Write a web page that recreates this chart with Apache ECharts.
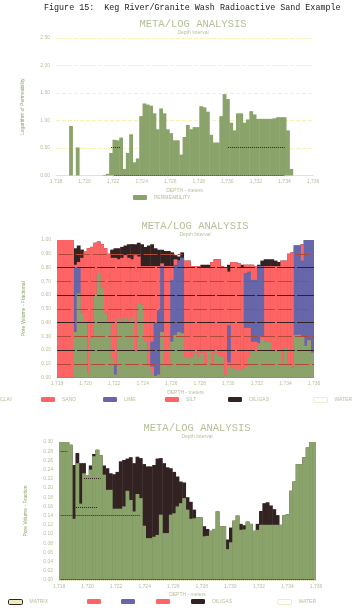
<!DOCTYPE html>
<html>
<head>
<meta charset="utf-8">
<title>Figure 15</title>
<script src="https://cdn.jsdelivr.net/npm/echarts@6/dist/echarts.min.js"></script>
<style>
html, body { margin: 0; padding: 0; background: #fff; }
#ichart { width: 352px; height: 612px; }
</style>
</head>
<body>
<div id="ichart"></div>
<script>
// tick labels
const depthTicks = [1718, 1720, 1722, 1724, 1726, 1728, 1730, 1732, 1734, 1736]
const permMax = 2.5
const fracMax = 100
const porMax = 30

// one sample per depth step
const permeability = [
  0, 0, 0, 0, 0.9, 0, 0.51, 0, 0, 0,
  0, 0, 0, 0, 0.01, 0.03, 0.41, 0.65, 0.64, 0.69,
  0.12, 0.41, 0.75, 0.24, 0.31, 1.08, 1.31, 1.29, 1.27, 1.13,
  0.84, 1.22, 1.13, 0.84, 0.77, 0.64, 0.64, 0.38, 0.7, 0.92,
  0.84, 0.88, 0.88, 1.26, 1.24, 1.16, 0.74, 0.6, 0.6, 1.08,
  1.48, 1.39, 0.96, 0.82, 1.13, 1.13, 0.96, 1.02, 1.17, 1.11,
  1.03, 1.03, 1.03, 1.03, 1.03, 1.04, 1.06, 1.06, 1.06, 0.82,
  0.12, 0, 0, 0, 0, 0, 0
]

// middle chart: top of each layer (cumulative percent)
const clayTop = [
  0, 0, 0, 0, 0, 33, 61, 47, 40, 3,
  29, 60, 76, 65, 47, 40, 14, 2, 43, 40,
  43, 40, 44, 19, 54, 53, 26, 8, 3, 1,
  2, 33, 9, 8, 26, 31, 33, 32, 15, 14,
  15, 18, 15, 18, 10, 19, 10, 18, 16, 15,
  2, 8, 7, 6, 6, 6, 7, 15, 19, 19,
  24, 28, 26, 26, 19, 19, 19, 11, 22, 10,
  7, 31, 31, 30, 23, 27, 18
]
const sandTop = [
  100, 100, 100, 100, 100, 33, 61, 47, 40, 3,
  29, 60, 76, 65, 47, 40, 14, 2, 43, 40,
  43, 40, 44, 19, 54, 53, 26, 8, 8, 1,
  2, 33, 9, 8, 26, 31, 33, 32, 15, 14,
  15, 18, 15, 18, 10, 19, 10, 18, 16, 15,
  2, 11, 7, 6, 6, 6, 36, 36, 26, 26,
  25, 30, 26, 26, 19, 19, 19, 11, 22, 10,
  7, 31, 31, 30, 23, 27, 18
]
const limeTop = [
  100, 100, 100, 100, 100, 80, 80, 47, 40, 3,
  29, 60, 76, 65, 47, 40, 14, 9, 43, 40,
  43, 40, 44, 19, 54, 53, 26, 8, 26, 40,
  49, 81, 9, 8, 71, 82, 85, 87, 15, 14,
  15, 18, 15, 18, 10, 19, 10, 18, 16, 15,
  2, 38, 7, 6, 6, 6, 76, 77, 71, 71,
  81, 81, 26, 26, 19, 19, 19, 11, 22, 10,
  7, 96, 96, 85, 100, 100, 100
]
const siltTop = [
  100, 100, 100, 100, 100, 82, 84, 87, 92, 94,
  95, 98, 99, 97, 94, 90, 87, 87, 86, 87,
  89, 87, 86, 89, 88, 81, 81, 81, 81, 81,
  81, 83, 81, 81, 81, 86, 85, 87, 85, 85,
  81, 81, 81, 80, 80, 80, 84, 86, 86, 81,
  80, 77, 84, 84, 83, 80, 82, 82, 82, 81,
  81, 81, 81, 81, 81, 81, 81, 85, 85, 90,
  91, 96, 96, 97, 100, 100, 100
]
const oilTop = [
  100, 100, 100, 100, 100, 94, 96, 93, 92, 94,
  95, 98, 99, 97, 94, 90, 93, 94, 94, 95,
  96, 97, 97, 97, 98, 97, 95, 96, 97, 94,
  93, 93, 92, 92, 91, 89, 88, 91, 85, 85,
  81, 81, 81, 82, 82, 82, 84, 86, 86, 81,
  80, 82, 84, 84, 83, 82, 82, 82, 82, 81,
  82, 85, 86, 86, 86, 85, 84, 85, 85, 90,
  91, 96, 96, 97, 100, 100, 100
]

// bottom chart: matrix and oil/gas top
const matrixTop = [
  30, 30, 30, 29.4, 13.3, 25.4, 16.6, 23.2, 22.7, 24,
  26.9, 28.3, 27.1, 22.9, 19.6, 19.6, 15.5, 15.5, 15.5, 16,
  19.4, 17.4, 14.9, 18.7, 17.8, 11.8, 9.1, 9.1, 9.4, 9.8,
  14.2, 10.2, 10.2, 14.2, 14.5, 16, 16.7, 17.8, 15.3, 13.3,
  13.4, 13.6, 13.6, 9.5, 9.6, 10.7, 11.1, 14.9, 11.7, 11.7,
  6.7, 8.2, 12.9, 14, 10.9, 11, 12.7, 12.2, 10.7, 10.9,
  12, 12, 12, 12, 12, 12, 12, 14.1, 14.3, 19.4,
  21.4, 25.2, 25.2, 26.7, 28.8, 30, 30
]
const hydroTop = [
  30, 30, 30, 29.4, 25, 27.6, 25.4, 25.4, 22.7, 24.9,
  27.4, 28.3, 27.1, 24.9, 24.3, 23.2, 23, 23.5, 25.8, 26.1,
  26.4, 26.7, 25.4, 26.8, 26.5, 25.2, 24.7, 24.7, 25, 26.4,
  26.5, 25.4, 24.5, 24.3, 23.5, 22.5, 21.4, 21.2, 18, 17,
  15.3, 13.6, 13.6, 11.7, 11.1, 10.7, 11.1, 14.9, 11.7, 11.7,
  8.8, 11.4, 12.9, 14, 12.2, 11.9, 12.7, 12.2, 10.7, 12.2,
  15, 16.7, 16.9, 16.2, 15.4, 14.1, 12, 14.1, 14.3, 19.4,
  21.4, 25.2, 25.2, 26.7, 28.8, 30, 30
]

const steps = permeability.map((v, i) => String(i))

const GREEN = '#8aa36b'
const RED = '#ff6464'
const BLUE = '#6666aa'
const DARK = '#332222'
const PALE = '#b4bf98'
const SMALL = 5

function barSeries (name, idx, color, data) {
  return {
    name: name,
    type: 'bar',
    xAxisIndex: idx,
    yAxisIndex: idx,
    barWidth: 3.8,
    barGap: '-100%',
    itemStyle: { color: color },
    silent: true,
    data: data
  }
}

function rules (color, type, lines) {
  return {
    silent: true,
    symbol: 'none',
    animation: false,
    label: { show: false },
    lineStyle: { color: color, width: 1, type: type, opacity: 1 },
    data: lines
  }
}

// [value, fromStep, toStep]
function segs (list) {
  return list.map(s => [{ coord: [String(s[1]), s[0]] }, { coord: [String(s[2]), s[0]] }])
}

function titles (top, center, sub) {
  return [
    { text: 'META/LOG ANALYSIS', left: center, top: top, padding: 0, textAlign: 'center', textStyle: { color: PALE, fontSize: 10.5, fontWeight: 'normal', fontFamily: 'Liberation Mono' } },
    { text: sub, left: center, top: top + 11, padding: 0, textAlign: 'center', textStyle: { color: PALE, fontSize: SMALL, fontWeight: 'normal' } }
  ]
}

function catAxis (idx) {
  return { type: 'category', gridIndex: idx, data: steps, show: false }
}

function depthAxis (idx) {
  return {
    type: 'value',
    gridIndex: idx,
    position: 'bottom',
    min: depthTicks[0],
    max: depthTicks[depthTicks.length - 1],
    interval: 2,
    name: 'DEPTH - meters',
    nameLocation: 'middle',
    nameGap: 12.5,
    nameTextStyle: { color: PALE, fontSize: SMALL },
    axisLine: { lineStyle: { color: '#e6e2b0', type: 'dotted' } },
    axisTick: { show: false },
    splitLine: { show: false },
    axisLabel: { color: PALE, fontSize: SMALL, margin: 4 }
  }
}

function valAxis (idx, max, interval, name, fmt, gridColor) {
  return {
    type: 'value',
    gridIndex: idx,
    min: 0,
    max: max,
    interval: interval,
    name: name,
    nameLocation: 'middle',
    nameGap: 31,
    nameTextStyle: { color: GREEN, fontSize: SMALL },
    axisLine: { show: false },
    axisTick: { show: false },
    splitLine: { show: !!gridColor, lineStyle: { color: gridColor || '#fff', type: 'dashed' } },
    axisLabel: { color: PALE, fontSize: SMALL, margin: 6, formatter: fmt }
  }
}

function legendAt (left, top, item, showText) {
  return {
    left: left,
    top: top,
    selectedMode: false,
    itemWidth: 14,
    itemHeight: 5,
    padding: 0,
    formatter: n => (showText ? n : ''),
    textStyle: { color: PALE, fontSize: SMALL, padding: [0, 0, 0, 2] },
    data: [item]
  }
}

const waterItem = { name: 'WATER', itemStyle: { color: '#fff', borderColor: '#efe9c8', borderWidth: 1 } }
const matrixItem = { name: 'MATRIX', itemStyle: { color: '#ecebbe', borderColor: DARK, borderWidth: 1 } }

const option = {
  animation: false,
  backgroundColor: '#fff',
  title: [
    { text: 'Figure 15:  Keg River/Granite Wash Radioactive Sand Example', left: 44, top: 4, padding: 0, textStyle: { color: '#222', fontSize: 8.4, fontWeight: 'normal', fontFamily: 'Liberation Mono' } }
  ].concat(
    titles(19, 193, 'Depth Interval'),
    titles(221, 195, 'Depth Interval'),
    titles(423, 197, 'Depth Interval')
  ),
  grid: [
    { left: 56, top: 38, width: 257, height: 137.5 },
    { left: 57, top: 240, width: 257, height: 137.5 },
    { left: 59, top: 442, width: 257, height: 138 }
  ],
  legend: [
    legendAt(133, 195, 'PERMEABILITY', true),
    legendAt(-21, 397, 'CLAY', true),
    legendAt(41, 397, 'SAND', true),
    legendAt(103, 397, 'LIME', true),
    legendAt(165, 397, 'SILT', true),
    legendAt(228, 397, 'OIL/GAS', true),
    legendAt(313, 397, waterItem, true),
    legendAt(8, 599, matrixItem, true),
    legendAt(87, 599, 'SAND', false),
    legendAt(121, 599, 'LIME', false),
    legendAt(156, 599, 'SILT', false),
    legendAt(191, 599, 'OIL/GAS', true),
    legendAt(277, 599, waterItem, true)
  ],
  xAxis: [catAxis(0), catAxis(1), catAxis(2), depthAxis(0), depthAxis(1), depthAxis(2)],
  yAxis: [
    valAxis(0, permMax, 0.5, 'Logarithm of Permeability', v => v.toFixed(2), '#f7f3b0'),
    valAxis(1, fracMax, 10, 'Pore Volume - Fractional', v => (v / 100).toFixed(2)),
    valAxis(2, porMax, 2, 'Pore Volume - Fraction', v => (v / 100).toFixed(2))
  ],
  series: [
    Object.assign(barSeries('PERMEABILITY', 0, GREEN, permeability), {
      markLine: rules(DARK, 'dotted', segs([[0.52, 16, 19], [0.52, 51, 68], [0.01, 17, 68]]))
    }),

    barSeries('OIL/GAS', 1, DARK, oilTop),
    barSeries('SILT', 1, RED, siltTop),
    barSeries('LIME', 1, BLUE, limeTop),
    Object.assign(barSeries('SAND', 1, RED, sandTop), {
      markLine: rules('#b04a38', [14, 3], [{ yAxis: 70 }, { yAxis: 50 }, { yAxis: 30 }, { yAxis: 10 }].concat(segs([[90, 0, 37], [90, 71, 76]])))
    }),
    Object.assign(barSeries('CLAY', 1, GREEN, clayTop), {
      markLine: rules(DARK, [18, 2], [{ yAxis: 80 }, { yAxis: 60 }, { yAxis: 40 }, { yAxis: 20 }])
    }),
    barSeries('WATER', 1, '#fff', []),

    barSeries('OIL/GAS', 2, DARK, hydroTop),
    barSeries('SILT', 2, RED, []),
    barSeries('LIME', 2, BLUE, []),
    barSeries('SAND', 2, RED, []),
    Object.assign(barSeries('MATRIX', 2, GREEN, matrixTop), {
      markLine: rules(DARK, 'dotted', segs([[14, 0, 24], [15.9, 4, 11], [22.1, 7, 12], [28, 0, 2], [0.1, 0, 76]]))
    }),
    barSeries('WATER', 2, '#fff', [])
  ]
}

var myChart = echarts.init(document.getElementById('ichart'), null, { renderer: 'canvas' })
myChart.setOption(option)
</script>
</body>
</html>
